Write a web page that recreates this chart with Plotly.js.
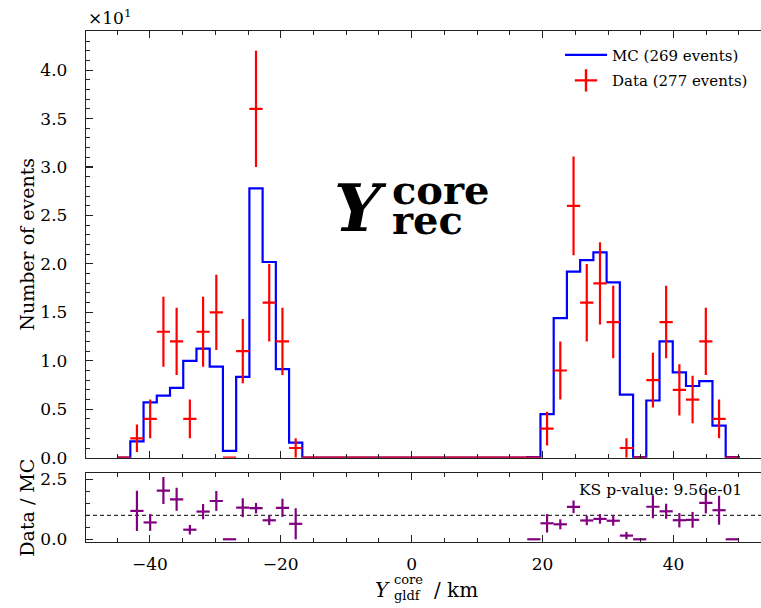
<!DOCTYPE html>
<html>
<head>
<meta charset="utf-8">
<script src="https://cdn.plot.ly/plotly-3.0.1.min.js"></script>
<style>
html,body{margin:0;padding:0;overflow:hidden;background:#fff;}
#plot{width:772px;height:608px;}
</style>
</head>
<body>
<div id="plot"></div>
<script>
// Histogram binning (47 bins from -45 km to 50 km)
const binStart = -45;
const binEnd = 50;
const nBins = 47;

// MC (weighted) counts per bin
const mcCounts = [
  0, 1.69, 5.7, 6.4, 7.2, 10.0, 11.25, 9.4, 0.7, 8.35, 27.8, 20.2, 9.15, 1.55,
  0, 0, 0, 0, 0, 0, 0, 0, 0, 0, 0, 0, 0, 0, 0, 0, 0,
  0.05, 4.5, 14.4, 19.2, 20.4, 21.2, 18.1, 6.5, 0.05, 5.9, 12.0, 8.8, 7.4, 7.9, 3.3, 0.05
];

// Data counts per bin
const dataCounts = [
  0, 2, 4, 13, 12, 4, 13, 15, 0, 11, 36, 16, 12, 1,
  0, 0, 0, 0, 0, 0, 0, 0, 0, 0, 0, 0, 0, 0, 0, 0, 0,
  0, 3, 9, 26, 16, 18, 14, 1, 0, 8, 14, 7, 6, 12, 4, 0
];

// Tick labels
const mainTickVals = [0, 5, 10, 15, 20, 25, 30, 35, 40];
const mainTickText = ['0.0', '0.5', '1.0', '1.5', '2.0', '2.5', '3.0', '3.5', '4.0'];
const ratioTickVals = [0, 2.5];
const ratioTickText = ['0.0', '2.5'];
const ksText = 'KS p-value: 9.56e-01';

// ---- derived from the arrays ----
const binW = (binEnd - binStart) / nBins;
const edges = [];
for (let k = 0; k <= nBins; k++) edges.push(binStart + k * binW);
const centers = edges.slice(0, nBins).map(e => e + binW / 2);

const stepX = [edges[0]].concat(edges);
const stepY = [0].concat(mcCounts).concat([0]);

const mcTotal = Math.round(mcCounts.reduce((a, b) => a + b, 0));
const dataTotal = dataCounts.reduce((a, b) => a + b, 0);

const rX = [], rY = [], rE = [];
for (let k = 0; k < nBins; k++) {
  if (mcCounts[k] > 0) {
    rX.push(centers[k]);
    rY.push(dataCounts[k] / mcCounts[k]);
    rE.push(Math.sqrt(dataCounts[k]) / mcCounts[k]);
  }
}

const FONT = 'DejaVu Serif';

const traces = [
  {
    x: stepX, y: stepY, type: 'scatter', mode: 'lines',
    line: {color: '#0000ff', width: 2.2, shape: 'hv'},
    name: 'MC (' + mcTotal + ' events)', legendgroup: 'mc',
    xaxis: 'x', yaxis: 'y', hoverinfo: 'skip'
  },
  {
    x: centers, y: dataCounts, type: 'scatter', mode: 'markers',
    marker: {size: 1, opacity: 0, color: 'red'},
    error_y: {type: 'data', array: dataCounts.map(v => Math.sqrt(v)), visible: true, color: 'red', thickness: 2.2, width: 0},
    error_x: {type: 'data', array: centers.map(() => binW / 2), visible: true, color: 'red', thickness: 2.2, width: 0},
    showlegend: false, cliponaxis: false, xaxis: 'x', yaxis: 'y'
  },
  {
    x: [null], y: [null], type: 'scatter', mode: 'markers',
    marker: {symbol: 'cross-thin', size: 16, color: 'red', line: {color: 'red', width: 2.4}},
    name: 'Data (' + dataTotal + ' events)', legendgroup: 'data',
    xaxis: 'x', yaxis: 'y'
  },
  {
    x: rX, y: rY, type: 'scatter', mode: 'markers',
    marker: {size: 1, opacity: 0, color: 'purple'},
    error_y: {type: 'data', array: rE, visible: true, color: '#800080', thickness: 2.2, width: 0},
    error_x: {type: 'data', array: rX.map(() => binW / 2), visible: true, color: '#800080', thickness: 2.2, width: 0},
    showlegend: false, cliponaxis: false, xaxis: 'x2', yaxis: 'y2'
  }
];

const axisCommon = {
  showgrid: false, zeroline: false, showline: true, linecolor: '#222', linewidth: 1.2,
  ticks: 'inside', mirror: 'allticks', tickcolor: '#222', tickwidth: 1.1, ticklen: 7,
  tickfont: {family: FONT, size: 17, color: '#000'}
};

const layout = {
  width: 772, height: 608,
  margin: {l: 86, r: 2, t: 31, b: 66},
  paper_bgcolor: '#fff', plot_bgcolor: '#fff',
  showlegend: true,
  legend: {
    x: 0.693, y: 0.985, xanchor: 'left', yanchor: 'top',
    font: {family: FONT, size: 15, color: '#000'},
    bgcolor: 'rgba(0,0,0,0)', tracegroupgap: 3, traceorder: 'grouped', itemwidth: 42
  },
  xaxis: Object.assign({}, axisCommon, {
    domain: [0, 1], anchor: 'y', range: [-49.75, 54.75],
    tickmode: 'linear', tick0: 0, dtick: 20, showticklabels: false,
    minor: {tickmode: 'linear', tick0: 0, dtick: 5, ticks: 'inside', ticklen: 4, tickcolor: '#222', tickwidth: 1}
  }),
  yaxis: Object.assign({}, axisCommon, {
    domain: [0.165, 1], anchor: 'x', range: [0, 44.04],
    tickmode: 'array', tickvals: mainTickVals, ticktext: mainTickText,
    ticklabelstandoff: 14,
    minor: {tickmode: 'linear', tick0: 0, dtick: 1, ticks: 'inside', ticklen: 4, tickcolor: '#222', tickwidth: 1},
    title: {text: 'Number of events', font: {family: FONT, size: 19, color: '#000'}, standoff: 0}
  }),
  xaxis2: Object.assign({}, axisCommon, {
    domain: [0, 1], anchor: 'y2', range: [-49.75, 54.75], matches: 'x',
    tickmode: 'linear', tick0: 0, dtick: 20, ticklabelstandoff: 6,
    minor: {tickmode: 'linear', tick0: 0, dtick: 5, ticks: 'inside', ticklen: 4, tickcolor: '#222', tickwidth: 1}
  }),
  yaxis2: Object.assign({}, axisCommon, {
    domain: [0, 0.1344], anchor: 'x2', range: [-0.113, 2.75],
    tickmode: 'array', tickvals: ratioTickVals, ticktext: ratioTickText,
    ticklabelstandoff: 14,
    minor: {tickmode: 'linear', tick0: 0, dtick: 0.5, ticks: 'inside', ticklen: 4, tickcolor: '#222', tickwidth: 1},
    title: {text: 'Data / MC', font: {family: FONT, size: 19, color: '#000'}, standoff: 0}
  }),
  shapes: [
    {type: 'line', xref: 'paper', x0: 0, x1: 1, yref: 'y2', y0: 1, y1: 1,
     line: {color: '#000', width: 1, dash: '4px,3px'}, layer: 'below'}
  ],
  annotations: [
    {text: '×10<sup>1</sup>', xref: 'paper', yref: 'paper', x: 0, y: 1.027, xanchor: 'left', yanchor: 'middle',
     showarrow: false, font: {family: FONT, size: 17, color: '#000'}},
    {text: ksText, xref: 'paper', yref: 'paper', x: 0.962, y: 0.102, xanchor: 'right', yanchor: 'middle',
     showarrow: false, font: {family: FONT, size: 15.5, color: '#000'}},
    // big label  Y_rec^core
    {text: '<b><i>Y</i></b>', xref: 'paper', yref: 'paper', x: 0.359, y: 0.653, xanchor: 'left', yanchor: 'middle',
     showarrow: false, font: {family: FONT, size: 66, color: '#000'}},
    {text: '<b>core</b>', xref: 'paper', yref: 'paper', x: 0.445, y: 0.69, xanchor: 'left', yanchor: 'middle',
     showarrow: false, font: {family: FONT, size: 40, color: '#000'}},
    {text: '<b>rec</b>', xref: 'paper', yref: 'paper', x: 0.445, y: 0.632, xanchor: 'left', yanchor: 'middle',
     showarrow: false, font: {family: FONT, size: 40, color: '#000'}},
    // x-axis title  Y_gldf^core / km
    {text: '<i>Y</i>', xref: 'paper', yref: 'paper', x: 0.42, y: -0.094, xanchor: 'left', yanchor: 'middle',
     showarrow: false, font: {family: FONT, size: 20, color: '#000'}},
    {text: 'core', xref: 'paper', yref: 'paper', x: 0.447, y: -0.074, xanchor: 'left', yanchor: 'middle',
     showarrow: false, font: {family: FONT, size: 13, color: '#000'}},
    {text: 'gldf', xref: 'paper', yref: 'paper', x: 0.447, y: -0.104, xanchor: 'left', yanchor: 'middle',
     showarrow: false, font: {family: FONT, size: 13, color: '#000'}},
    {text: '/ km', xref: 'paper', yref: 'paper', x: 0.506, y: -0.094, xanchor: 'left', yanchor: 'middle',
     showarrow: false, font: {family: FONT, size: 20, color: '#000'}}
  ]
};

Plotly.newPlot('plot', traces, layout, {staticPlot: true, displayModeBar: false});
</script>
</body>
</html>
